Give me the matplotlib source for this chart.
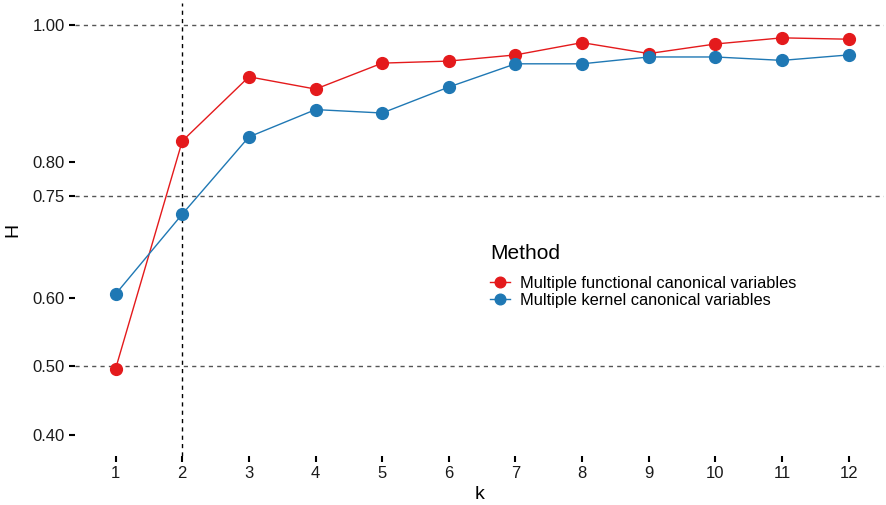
import matplotlib.pyplot as plt
import numpy as np

plt.rcParams['font.family'] = ['Liberation Sans', 'DejaVu Sans']

#################### DATA ##############################
k = np.arange(1, 13)
h_functional = [0.497, 0.830, 0.924, 0.906, 0.944, 0.947,
                0.956, 0.974, 0.958, 0.972, 0.981, 0.979]
h_kernel = [0.606, 0.723, 0.836, 0.876, 0.871, 0.909,
            0.943, 0.943, 0.953, 0.953, 0.948, 0.956]
y_ticks = [0.40, 0.50, 0.60, 0.75, 0.80, 1.00]
h_refs = [0.50, 0.75, 1.00]
k_ref = 2

#################### PLOT ##############################
W, H = 887, 505
fig = plt.figure(figsize=(W / 100, H / 100), dpi=100)
ax = fig.add_axes([75 / W, (H - 456) / H, (884 - 75) / W, (456 - 3) / H])

for y in h_refs:
    ax.axhline(y, color='#555555', lw=1.0, ls=(0, (3, 3)), zorder=1)
ax.axvline(k_ref, color='black', lw=1.0, ls=(0, (3, 3)), zorder=1)

ax.plot(k, h_functional, color='#E41A1C', lw=1.0, marker='o', ms=8.5,
        label='Multiple functional canonical variables', zorder=3)
ax.plot(k, h_kernel, color='#1F78B4', lw=1.0, marker='o', ms=8.5,
        label='Multiple kernel canonical variables', zorder=3)

ax.set_xlim(0.39, 12.53)
ax.set_ylim(0.369, 1.032)
ax.set_xticks(k)
ax.set_yticks(y_ticks)
ax.set_yticklabels(['%.2f' % v for v in y_ticks])
for s in ax.spines.values():
    s.set_visible(False)
ax.tick_params(axis='both', length=4.5, width=1.5, color='black',
               labelsize=12, labelcolor='#1a1a1a', pad=3)

ax.set_xlabel('k', fontsize=14, labelpad=3)
ax.set_ylabel('H', fontsize=14, labelpad=8)

leg = fig.legend(loc='upper left', bbox_to_anchor=(482 / W, 1 - 236 / H),
                 bbox_transform=fig.transFigure, borderpad=0,
                 title='Method', frameon=False, fontsize=11.8,
                 title_fontsize=15, handlelength=1.2, handletextpad=0.6,
                 labelspacing=0.15, alignment='left', markerscale=0.9)
leg._legend_box.sep = 9

fig.savefig('out.png', dpi=100)
